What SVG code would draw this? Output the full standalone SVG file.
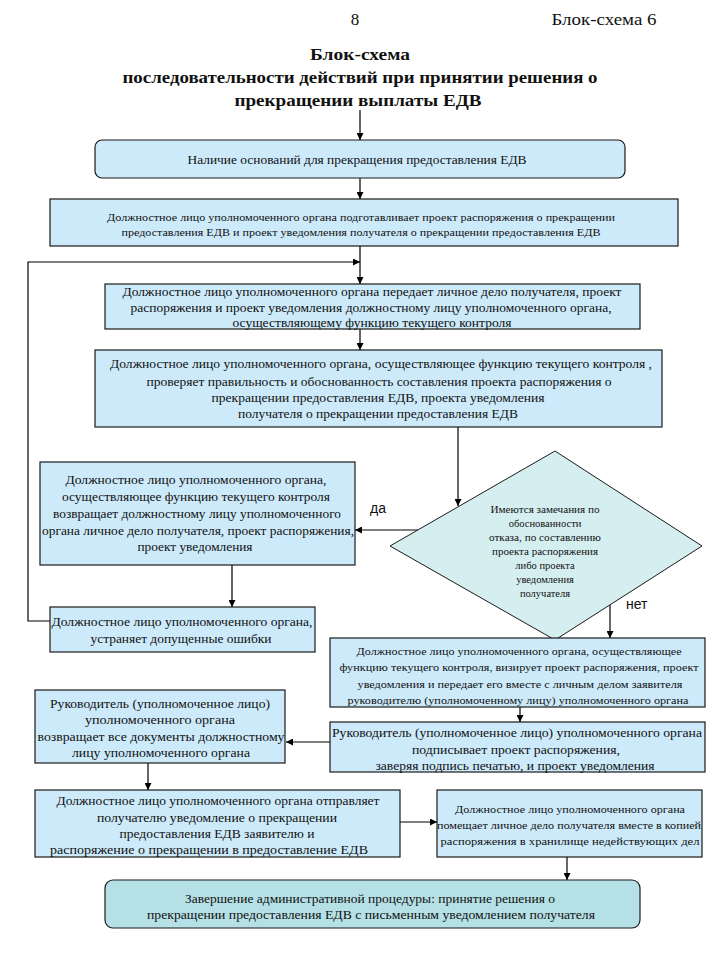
<svg xmlns="http://www.w3.org/2000/svg" width="720" height="960" viewBox="0 0 720 960">
<defs>
<marker id="ah" viewBox="0 0 10 10" refX="10" refY="5" markerWidth="7" markerHeight="7" orient="auto" markerUnits="userSpaceOnUse"><path d="M0,0 L10,5 L0,10 z" fill="#000"/></marker>
<style>
.bx{fill:#cdeafa;stroke:#1a1a1a;stroke-width:1.2}
.dm{fill:#d5eef0;stroke:#1a1a1a;stroke-width:1}
.fin{fill:#b5e0e5;stroke:#1a1a1a;stroke-width:1.2}
.t{font-family:"Liberation Serif","DejaVu Serif",serif;font-size:12px;fill:#111;text-anchor:middle}
.s{font-size:10.5px}
.h{font-family:"Liberation Serif","DejaVu Serif",serif;font-size:17px;fill:#111}
.ti{font-family:"Liberation Serif","DejaVu Serif",serif;font-size:17px;font-weight:bold;fill:#111;text-anchor:middle}
.lb{font-family:"Liberation Sans","DejaVu Sans",sans-serif;font-size:14px;fill:#111}
.c{fill:none;stroke:#000;stroke-width:1.2}
</style>
</defs>
<rect width="720" height="960" fill="#fff"/>
<g id="header">
<text class="h" x="355" y="25" text-anchor="middle">8</text>
<text class="h" x="604" y="25" text-anchor="middle" textLength="105" lengthAdjust="spacingAndGlyphs">Блок-схема 6</text>
<text class="ti" x="360" y="60" textLength="100" lengthAdjust="spacingAndGlyphs">Блок-схема</text>
<text class="ti" x="360" y="83" textLength="475" lengthAdjust="spacingAndGlyphs">последовательности действий при принятии решения о</text>
<text class="ti" x="358" y="106" textLength="247" lengthAdjust="spacingAndGlyphs">прекращении выплаты ЕДВ</text>
</g>
<g id="connectors">
<line class="c" x1="360" y1="110" x2="360" y2="140" marker-end="url(#ah)"/>
<line class="c" x1="360" y1="178" x2="360" y2="199" marker-end="url(#ah)"/>
<line class="c" x1="360" y1="246" x2="360" y2="284" marker-end="url(#ah)"/>
<polyline class="c" points="50,621 28,621 28,262 360,262" marker-end="url(#ah)"/>
<line class="c" x1="360" y1="329" x2="360" y2="350" marker-end="url(#ah)"/>
<line class="c" x1="458" y1="427" x2="458" y2="506" marker-end="url(#ah)"/>
<line class="c" x1="418" y1="530" x2="355" y2="530" marker-end="url(#ah)"/>
<line class="c" x1="232" y1="565" x2="232" y2="607" marker-end="url(#ah)"/>
<line class="c" x1="610" y1="597" x2="610" y2="638" marker-end="url(#ah)"/>
<line class="c" x1="520" y1="707" x2="520" y2="722" marker-end="url(#ah)"/>
<line class="c" x1="330" y1="742" x2="286" y2="742" marker-end="url(#ah)"/>
<line class="c" x1="148" y1="763" x2="148" y2="790" marker-end="url(#ah)"/>
<line class="c" x1="400" y1="822" x2="437" y2="822" marker-end="url(#ah)"/>
<line class="c" x1="567" y1="857" x2="567" y2="880" marker-end="url(#ah)"/>
<text class="lb" x="370" y="513">да</text>
<text class="lb" x="626" y="609">нет</text>
</g>
<g id="n1">
<rect class="bx" x="95" y="140" width="530" height="38" rx="7"/>
<text class="t" x="357" y="164" textLength="339" lengthAdjust="spacingAndGlyphs">Наличие оснований для  прекращения предоставления ЕДВ</text>
</g>
<g id="n2">
<rect class="bx" x="50" y="199" width="628" height="47"/>
<text class="t s" x="361" y="221" textLength="508" lengthAdjust="spacingAndGlyphs">Должностное лицо уполномоченного органа подготавливает проект распоряжения о прекращении</text>
<text class="t s" x="361" y="236" textLength="479" lengthAdjust="spacingAndGlyphs">предоставления  ЕДВ и проект уведомления получателя о прекращении  предоставления  ЕДВ</text>
</g>
<g id="n3">
<rect class="bx" x="105" y="284" width="535" height="45"/>
<text class="t" x="372" y="296" textLength="499" lengthAdjust="spacingAndGlyphs">Должностное лицо уполномоченного органа передает личное дело получателя, проект</text>
<text class="t" x="371" y="312" textLength="481" lengthAdjust="spacingAndGlyphs">распоряжения и проект уведомления должностному лицу уполномоченного органа,</text>
<text class="t" x="372" y="327" textLength="279" lengthAdjust="spacingAndGlyphs">осуществляющему функцию  текущего контроля</text>
</g>
<g id="n4">
<rect class="bx" x="95" y="350" width="567" height="77"/>
<text class="t" x="381" y="368" textLength="542" lengthAdjust="spacingAndGlyphs">Должностное  лицо уполномоченного органа, осуществляющее функцию  текущего контроля ,</text>
<text class="t" x="379" y="386" textLength="465" lengthAdjust="spacingAndGlyphs">проверяет правильность  и обоснованность составления проекта распоряжения о</text>
<text class="t" x="378" y="402" textLength="333" lengthAdjust="spacingAndGlyphs">прекращении  предоставления ЕДВ, проекта уведомления</text>
<text class="t" x="378" y="418" textLength="280" lengthAdjust="spacingAndGlyphs">получателя о прекращении  предоставления ЕДВ</text>
</g>
<g id="n5">
<polygon class="dm" points="555,451 702,546 555,640 390,546"/>
<text class="t s" x="545" y="513" textLength="109" lengthAdjust="spacingAndGlyphs">Имеются замечания по</text>
<text class="t s" x="545" y="527">обоснованности</text>
<text class="t s" x="545" y="541" textLength="112" lengthAdjust="spacingAndGlyphs">отказа, по составлению</text>
<text class="t s" x="545" y="555" textLength="106" lengthAdjust="spacingAndGlyphs">проекта распоряжения</text>
<text class="t s" x="545" y="569">либо  проекта</text>
<text class="t s" x="545" y="583">уведомления</text>
<text class="t s" x="545" y="597">получателя</text>
</g>
<g id="n6">
<rect class="bx" x="40" y="462" width="315" height="103"/>
<text class="t" x="196" y="484" textLength="261" lengthAdjust="spacingAndGlyphs">Должностное лицо уполномоченного органа,</text>
<text class="t" x="196" y="501" textLength="268" lengthAdjust="spacingAndGlyphs">осуществляющее функцию  текущего контроля</text>
<text class="t" x="197" y="518" textLength="288" lengthAdjust="spacingAndGlyphs">возвращает должностному лицу уполномоченного</text>
<text class="t" x="198" y="535" textLength="312" lengthAdjust="spacingAndGlyphs">органа личное дело получателя, проект распоряжения,</text>
<text class="t" x="195" y="551" textLength="115" lengthAdjust="spacingAndGlyphs">проект уведомления</text>
</g>
<g id="n7">
<rect class="bx" x="50" y="607" width="265" height="45"/>
<text class="t" x="182" y="626" textLength="261" lengthAdjust="spacingAndGlyphs">Должностное лицо уполномоченного органа,</text>
<text class="t" x="181" y="643" textLength="181" lengthAdjust="spacingAndGlyphs">устраняет допущенные ошибки</text>
</g>
<g id="n8">
<rect class="bx" x="330" y="638" width="375" height="69"/>
<text class="t s" x="519" y="655" textLength="325" lengthAdjust="spacingAndGlyphs">Должностное лицо уполномоченного органа, осуществляющее</text>
<text class="t s" x="519" y="671" textLength="359" lengthAdjust="spacingAndGlyphs">функцию текущего контроля, визирует проект распоряжения, проект</text>
<text class="t s" x="520" y="688" textLength="325" lengthAdjust="spacingAndGlyphs">уведомления и передает его вместе с личным делом заявителя</text>
<text class="t s" x="518" y="704" textLength="341" lengthAdjust="spacingAndGlyphs">руководителю (уполномоченному лицу) уполномоченного органа</text>
</g>
<g id="n9">
<rect class="bx" x="330" y="722" width="375" height="50"/>
<text class="t" x="517" y="737" textLength="370" lengthAdjust="spacingAndGlyphs">Руководитель (уполномоченное лицо) уполномоченного органа</text>
<text class="t" x="516" y="754" textLength="208" lengthAdjust="spacingAndGlyphs">подписывает проект распоряжения,</text>
<text class="t" x="515" y="770" textLength="279" lengthAdjust="spacingAndGlyphs">заверяя подпись печатью, и проект уведомления</text>
</g>
<g id="n10">
<rect class="bx" x="35" y="690" width="250" height="73"/>
<text class="t" x="160" y="708" textLength="220" lengthAdjust="spacingAndGlyphs">Руководитель (уполномоченное лицо)</text>
<text class="t" x="160" y="724" textLength="150" lengthAdjust="spacingAndGlyphs">уполномоченного органа</text>
<text class="t" x="161" y="741" textLength="247" lengthAdjust="spacingAndGlyphs">возвращает все документы должностному</text>
<text class="t" x="161" y="757" textLength="178" lengthAdjust="spacingAndGlyphs">лицу уполномоченного органа</text>
</g>
<g id="n11">
<rect class="bx" x="35" y="790" width="365" height="67"/>
<text class="t" x="218" y="805" textLength="323" lengthAdjust="spacingAndGlyphs">Должностное лицо уполномоченного органа отправляет</text>
<text class="t" x="217" y="822" textLength="240" lengthAdjust="spacingAndGlyphs">получателю уведомление о прекращении</text>
<text class="t" x="217" y="838" textLength="195" lengthAdjust="spacingAndGlyphs">предоставления ЕДВ заявителю и</text>
<text class="t" x="209" y="854" textLength="318" lengthAdjust="spacingAndGlyphs">распоряжение о прекращении в предоставление  ЕДВ</text>
</g>
<g id="n12">
<rect class="bx" x="437" y="790" width="265" height="67"/>
<text class="t s" x="570" y="813" textLength="230" lengthAdjust="spacingAndGlyphs">Должностное лицо уполномоченного  органа</text>
<text class="t s" x="569" y="829" textLength="264" lengthAdjust="spacingAndGlyphs">помещает личное дело получателя вместе в копией</text>
<text class="t s" x="570" y="845" textLength="259" lengthAdjust="spacingAndGlyphs">распоряжения  в хранилище  недействующих  дел</text>
</g>
<g id="n13">
<rect class="fin" x="105" y="880" width="535" height="48" rx="8"/>
<text class="t" x="370" y="903" textLength="370" lengthAdjust="spacingAndGlyphs">Завершение административной процедуры: принятие решения о</text>
<text class="t" x="371" y="919" textLength="448" lengthAdjust="spacingAndGlyphs">прекращении  предоставления ЕДВ с письменным уведомлением  получателя</text>
</g>
</svg>
